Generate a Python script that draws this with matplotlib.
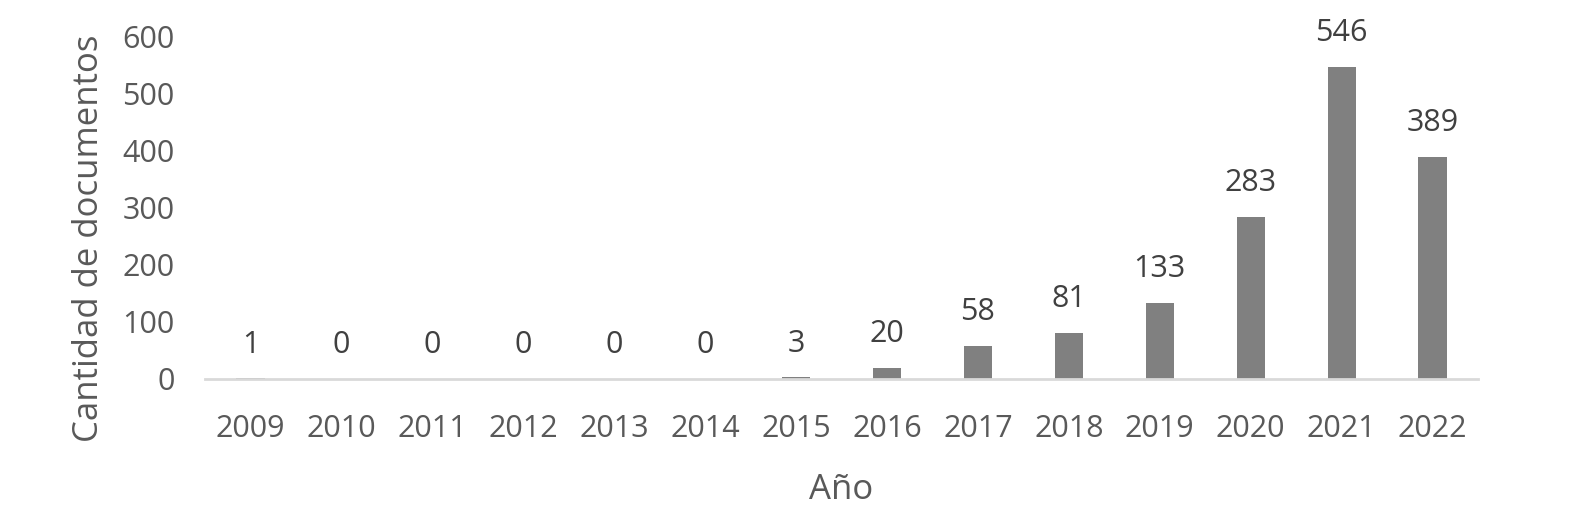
import matplotlib.pyplot as plt

plt.rcParams['font.family'] = ['Open Sans', 'DejaVu Sans']

years = ["2009", "2010", "2011", "2012", "2013", "2014", "2015",
         "2016", "2017", "2018", "2019", "2020", "2021", "2022"]
docs = [1, 0, 0, 0, 0, 0, 3, 20, 58, 81, 133, 283, 546, 389]
yticks = [0, 100, 200, 300, 400, 500, 600]

fig = plt.figure(figsize=(15.84, 5.17), dpi=100)
ax = fig.add_axes([205 / 1584, 138 / 517, 1273 / 1584, (379 - 36) / 517])

x = range(len(years))
bars = ax.bar(x, docs, width=0.31, color="#808080", zorder=2)

# etiquetas de datos
for xi, v in zip(x, docs):
    ax.annotate(str(v), (xi, v), xytext=(0, 13.5), textcoords="offset points",
                ha="center", va="bottom", fontsize=22, color="#404040")

ax.set_xlim(-0.5, len(years) - 0.5)
ax.set_ylim(0, 600)
ax.set_xticks(list(x))
ax.set_xticklabels(years)
ax.set_yticks(yticks)

for s in ["top", "right", "left"]:
    ax.spines[s].set_visible(False)
ax.spines["bottom"].set_color("#d9d9d9")
ax.spines["bottom"].set_linewidth(2)

ax.tick_params(axis="both", length=0, labelsize=22, labelcolor="#595959")
ax.tick_params(axis="x", pad=25)
ax.tick_params(axis="y", pad=22)

ax.set_xlabel("Año", fontsize=25, color="#595959", labelpad=21)
ax.set_ylabel("Cantidad de documentos", fontsize=25, color="#595959")
ax.yaxis.set_label_coords(-0.078, 0.41)

fig.savefig("out.png", dpi=100)
